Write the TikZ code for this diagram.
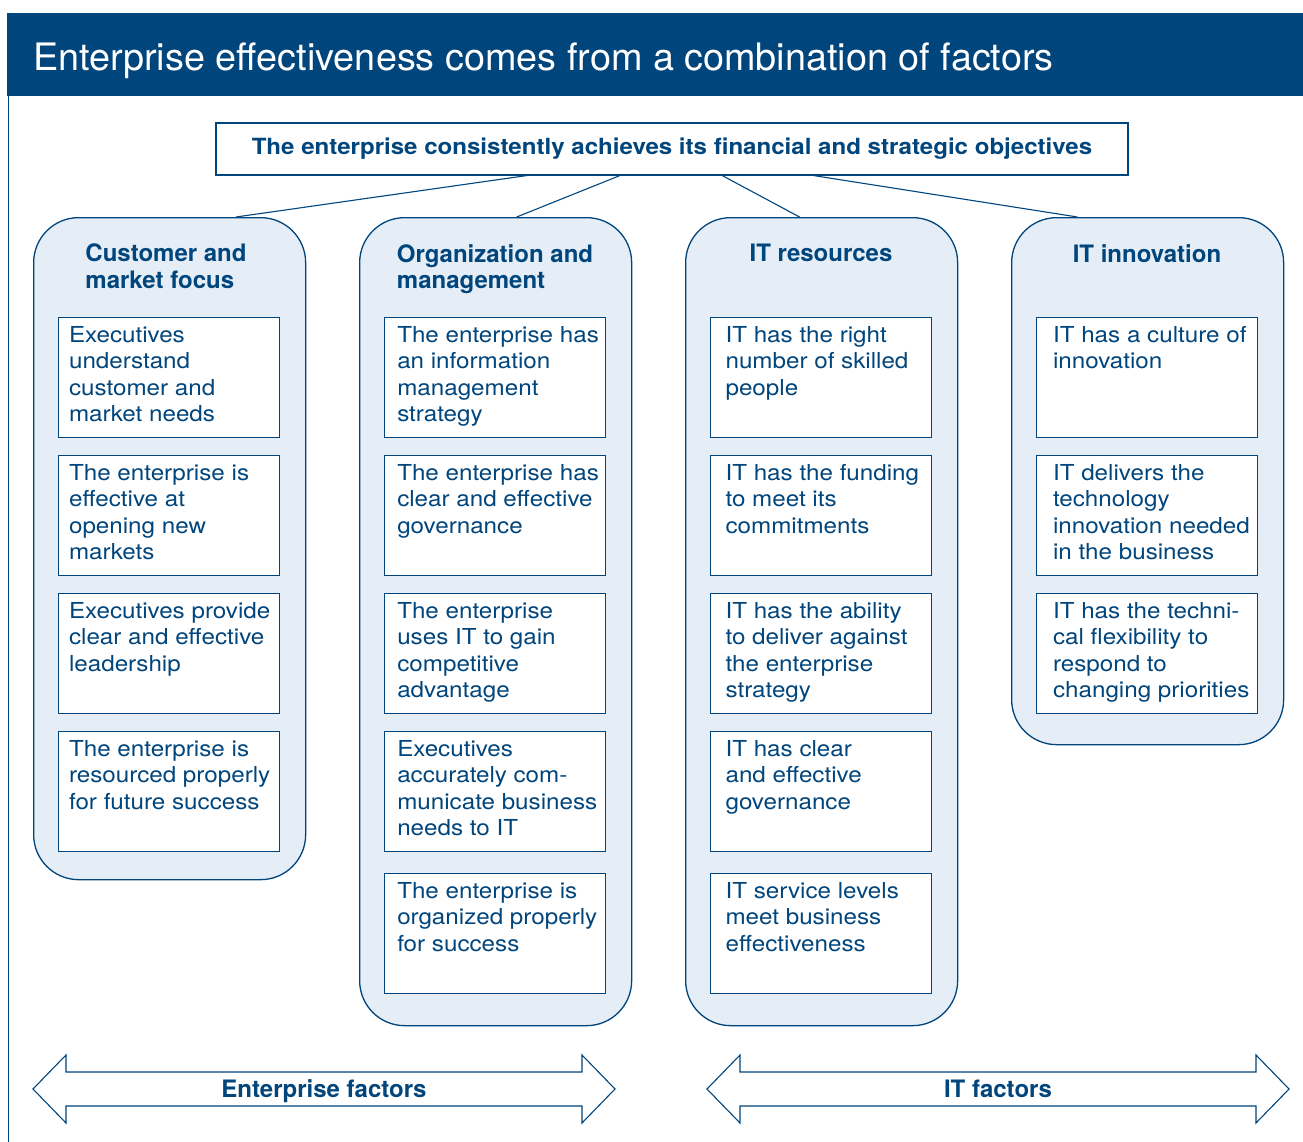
\documentclass[tikz,border=0pt]{standalone}
\usepackage{fontspec}
\setmainfont{TeX Gyre Heros}
\newfontfamily\bodyfont{TeX Gyre Heros}[FakeStretch=1.1]
\newfontfamily\goalfont{TeX Gyre Heros}[FakeStretch=1.08]
\usetikzlibrary{positioning,calc}

\definecolor{ibmblue}{RGB}{0,69,124}
\definecolor{colfill}{RGB}{229,237,246}

\newcommand{\inset}{10.5pt}
\newcommand{\itemtext}[1]{\parbox[t][108pt][t]{221pt}{\hspace*{\inset}\begin{tabular}[t]{@{}l@{}}#1\end{tabular}}}

\begin{document}
\begin{tikzpicture}[x=1pt,y=-1pt,
    column/.style={draw=ibmblue, fill=colfill, line width=1.3pt, rounded corners=45pt,
        anchor=north west, minimum width=272pt, inner sep=0pt},
    head/.style={anchor=north, align=left, inner sep=0pt, text=ibmblue,
        font=\fontsize{24}{26.5}\selectfont\bfseries},
    item/.style={draw=ibmblue, fill=white, line width=1.1pt, anchor=north west,
        minimum width=221pt, minimum height=120pt, inner xsep=0pt, inner ysep=6pt,
        text=ibmblue, font=\bodyfont\fontsize{22}{26.5}\selectfont},
    link/.style={draw=ibmblue, line width=1.1pt},
    band/.style={draw=ibmblue, fill=white, line width=1.1pt},
    bandlabel/.style={anchor=base, text=ibmblue, inner sep=0pt, font=\fontsize{24}{26}\selectfont\bfseries}]
    \useasboundingbox (0,0) rectangle (1303,1142);

    % title bar and frame
    \fill[ibmblue] (7,13) rectangle (1303,96);
    \draw[ibmblue, line width=1pt] (8,96) -- (8,1142);
    \node[anchor=base west, inner sep=0pt, text=white, font=\fontsize{37.8}{40}\selectfont] (title) at (33,71)
        {Enterprise effectiveness comes from a combination of factors};

    % objective
    \node[draw=ibmblue, fill=white, line width=1.1pt, minimum width=912pt, minimum height=52pt,
        text=ibmblue, font=\goalfont\fontsize{22.3}{24}\selectfont\bfseries] (goal) at (672,149)
        {The enterprise consistently achieves its financial and strategic objectives};

    % the four columns
    \node[column, minimum height=662pt] (cust) at (33,217) {};
    \node[column, minimum height=808pt] (org) at (359,217) {};
    \node[column, minimum height=808pt] (res) at (685,217) {};
    \node[column, minimum height=527pt] (inno) at (1011,217) {};

    \draw[link] ($(goal.south west)!0.341!(goal.south east)$) -- ($(cust.north west)!0.743!(cust.north east)$);
    \draw[link] ($(goal.south west)!0.443!(goal.south east)$) -- ($(org.north west)!0.577!(org.north east)$);
    \draw[link] ($(goal.south west)!0.555!(goal.south east)$) -- ($(res.north west)!0.419!(res.north east)$);
    \draw[link] ($(goal.south west)!0.655!(goal.south east)$) -- ($(inno.north west)!0.243!(inno.north east)$);

    \node[head] (custhead) at (166,244) {Customer and\\market focus};
    \node[head] (orghead) at (495,244) {Organization and\\management};
    \node[head] (reshead) at (821,244) {IT resources};
    \node[head] (innohead) at (1147,244) {IT innovation};

    % customer and market focus
    \renewcommand{\inset}{10.5pt}
    \node[item] (cust1) at (58,317) {\itemtext{Executives\\understand\\customer and\\market needs}};
    \node[item] (cust2) at (58,455) {\itemtext{The enterprise is\\effective at\\opening new\\markets}};
    \node[item] (cust3) at (58,593) {\itemtext{Executives provide\\clear and effective\\leadership}};
    \node[item] (cust4) at (58,731) {\itemtext{The enterprise is\\resourced properly\\for future success}};

    % organization and management
    \renewcommand{\inset}{12.7pt}
    \node[item] (org1) at (384,317) {\itemtext{The enterprise has\\an information\\management\\strategy}};
    \node[item] (org2) at (384,455) {\itemtext{The enterprise has\\clear and effective\\governance}};
    \node[item] (org3) at (384,593) {\itemtext{The enterprise\\uses IT to gain\\competitive\\advantage}};
    \node[item] (org4) at (384,731) {\itemtext{Executives\\accurately com-\\municate business\\needs to IT}};
    \node[item] (org5) at (384,873) {\itemtext{The enterprise is\\organized properly\\for success}};

    % IT resources
    \renewcommand{\inset}{15pt}
    \node[item] (res1) at (710,317) {\itemtext{IT has the right\\number of skilled\\people}};
    \node[item] (res2) at (710,455) {\itemtext{IT has the funding\\to meet its\\commitments}};
    \node[item] (res3) at (710,593) {\itemtext{IT has the ability\\to deliver against\\the enterprise\\strategy}};
    \node[item] (res4) at (710,731) {\itemtext{IT has clear\\and effective\\governance}};
    \node[item] (res5) at (710,873) {\itemtext{IT service levels\\meet business\\effectiveness}};

    % IT innovation
    \renewcommand{\inset}{16.5pt}
    \node[item] (inno1) at (1036,317) {\itemtext{IT has a culture of\\innovation}};
    \node[item] (inno2) at (1036,455) {\itemtext{IT delivers the\\technology\\innovation needed\\in the business}};
    \node[item] (inno3) at (1036,593) {\itemtext{IT has the techni-\\cal flexibility to\\respond to\\changing priorities}};

    % factor arrows
    \draw[band] (33,1089) -- (66,1055) -- (66,1072) -- (582,1072) -- (582,1055) -- (615,1089)
        -- (582,1123) -- (582,1106) -- (66,1106) -- (66,1123) -- cycle;
    \node[bandlabel] (entf) at (324,1097.5) {Enterprise factors};
    \draw[band] (707,1089) -- (740,1055) -- (740,1072) -- (1256,1072) -- (1256,1055) -- (1289,1089)
        -- (1256,1123) -- (1256,1106) -- (740,1106) -- (740,1123) -- cycle;
    \node[bandlabel] (itf) at (998,1097.5) {IT factors};
\end{tikzpicture}
\end{document}
